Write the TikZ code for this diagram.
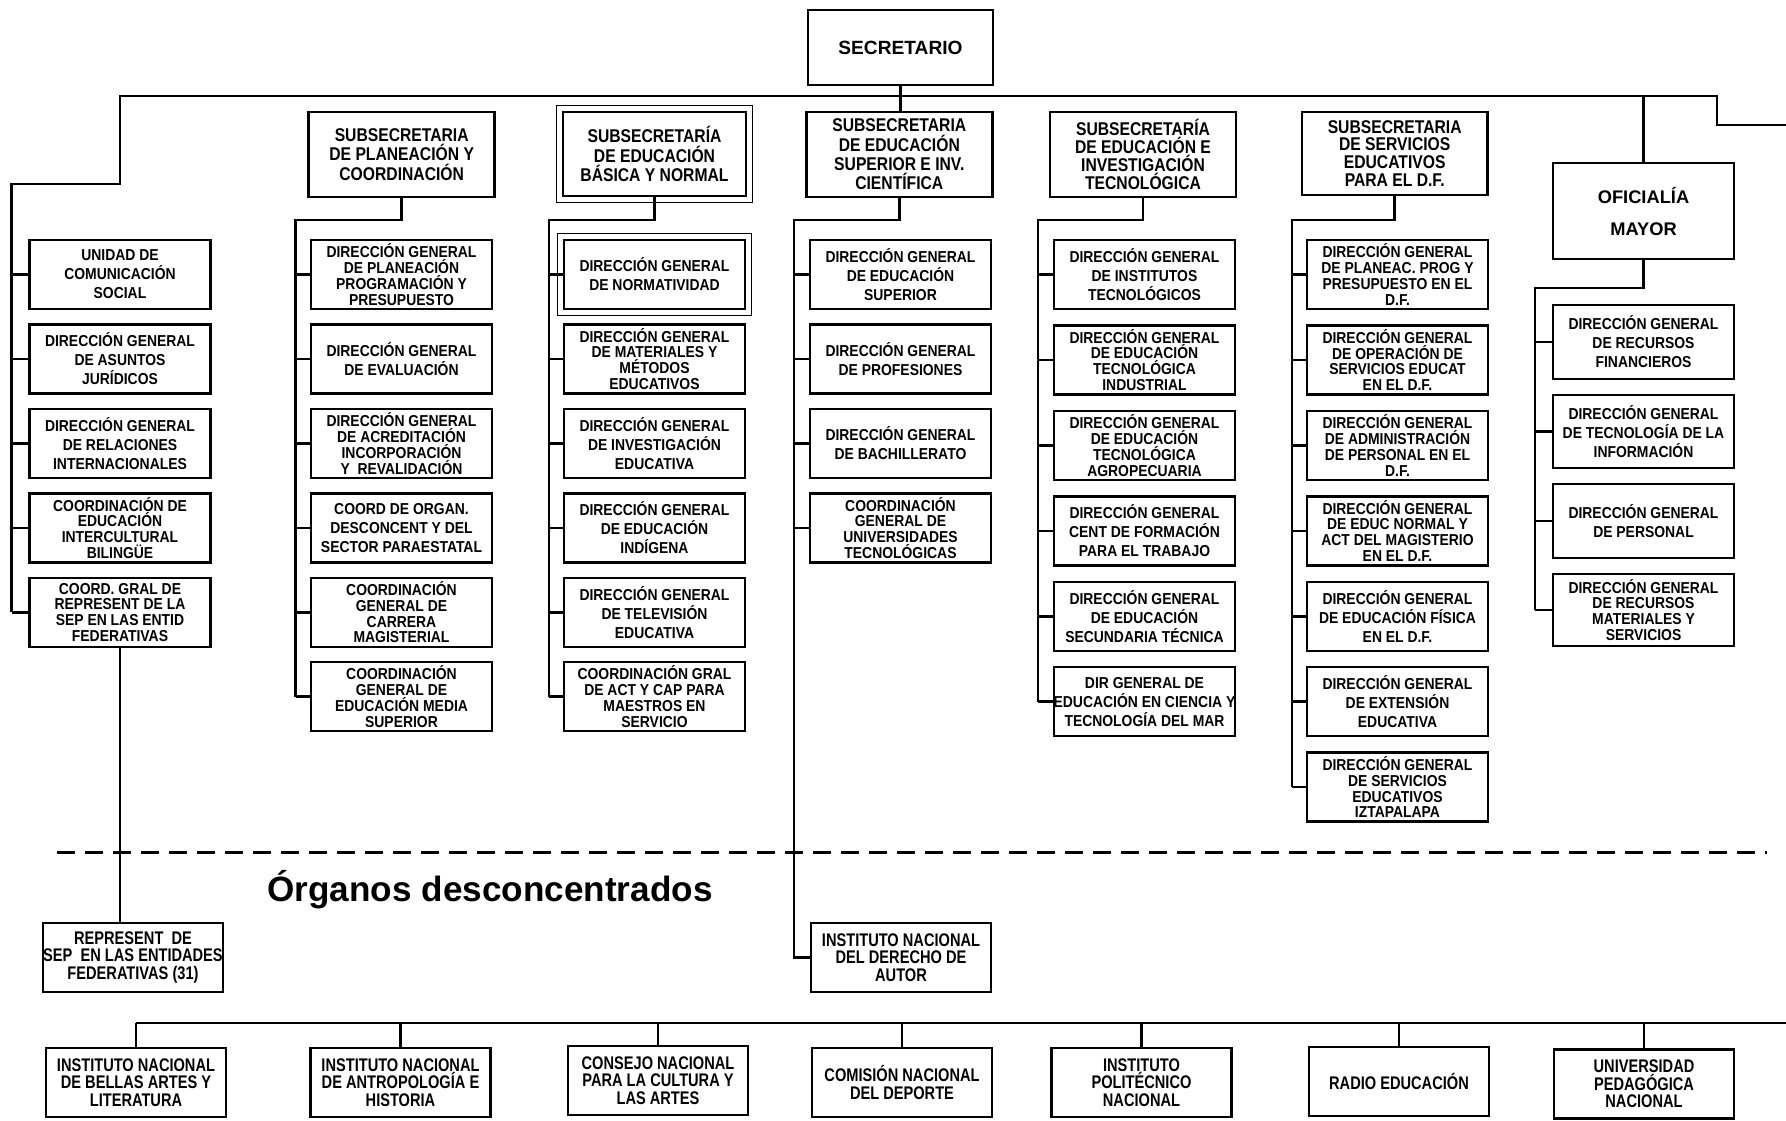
\documentclass[tikz,border=0pt]{standalone}
\usepackage{fontspec}
\setmainfont{Liberation Sans}
\newfontfamily\dirfont{Liberation Sans}[FakeStretch=0.88]
\newfontfamily\subfont{Liberation Sans}[FakeStretch=0.85]
\newfontfamily\narfont{Liberation Sans}[FakeStretch=0.8]
\usetikzlibrary{positioning}

\begin{document}
\begin{tikzpicture}[x=0.02cm, y=-0.02cm, node distance=0.26cm,
  box/.style={draw, line width=1.4pt, fill=white, inner sep=0pt, align=center,
    minimum width=3.62cm, minimum height=1.38cm,
    font=\dirfont\bfseries\fontsize{9}{10.8}\selectfont},
  fourl/.style={font=\dirfont\bfseries\fontsize{9}{9}\selectfont},
  sub/.style={draw, line width=1.4pt, inner sep=0pt, align=center,
    minimum width=3.72cm, minimum height=1.7cm,
    font=\subfont\bfseries\fontsize{10.5}{11}\selectfont},
  subt/.style={font=\subfont\bfseries\fontsize{10.5}{10.2}\selectfont},
  head/.style={draw, line width=1.4pt, inner sep=0pt, align=center,
    minimum width=3.7cm, minimum height=1.5cm,
    font=\bfseries\fontsize{10.9}{18.2}\selectfont},
  nar/.style={box, minimum width=3.6cm,
    font=\narfont\bfseries\fontsize{10.4}{10}\selectfont},
  ln/.style={line width=1.4pt},
  sep/.style={line width=1.7pt, dash pattern=on 0.36cm off 0.2cm}]
  \useasboundingbox (0,0) rectangle (1786,1120);

  \node[head] (sec) at (900.5,47.5) {SECRETARIO};
  \node[sub] (ssp) at (401.7,154.5) {SUBSECRETARIA\\DE PLANEACIÓN Y\\COORDINACIÓN};
  \node[sub, minimum width=3.66cm, minimum height=1.68cm] (ssb) at (654.5,154) {SUBSECRETARÍA\\DE EDUCACIÓN\\BÁSICA Y NORMAL};
  \node[sub] (sss) at (899.3,154.5) {SUBSECRETARIA\\DE EDUCACIÓN\\SUPERIOR E INV.\\CIENTÍFICA};
  \node[sub, subt] (sst) at (1143,154.5) {SUBSECRETARÍA\\DE EDUCACIÓN E\\INVESTIGACIÓN\\TECNOLÓGICA};
  \node[sub, subt, minimum height=1.66cm] (ssd) at (1394.7,153.5) {SUBSECRETARIA\\DE SERVICIOS\\EDUCATIVOS\\PARA EL D.F.};
  \node[head, minimum width=3.62cm, minimum height=1.92cm, font=\bfseries\fontsize{10.4}{18.2}\selectfont] (om) at (1643.5,211) {OFICIALÍA\\MAYOR};

  \node[box] (l1) at (120,274.5) {UNIDAD DE\\COMUNICACIÓN\\SOCIAL};
  \node[box, below=of l1] (l2) {DIRECCIÓN GENERAL\\DE ASUNTOS\\JURÍDICOS};
  \node[box, below=of l2] (l3) {DIRECCIÓN GENERAL\\DE RELACIONES\\INTERNACIONALES};
  \node[box, fourl, below=of l3] (l4) {COORDINACIÓN DE\\EDUCACIÓN\\INTERCULTURAL\\BILINGÜE};
  \node[box, fourl, below=of l4] (l5) {COORD. GRAL DE\\REPRESENT DE LA\\SEP EN LAS ENTID\\FEDERATIVAS};

  \node[box, fourl] (p1) at (401.5,274.5) {DIRECCIÓN GENERAL\\DE PLANEACIÓN\\PROGRAMACIÓN Y\\PRESUPUESTO};
  \node[box, below=of p1] (p2) {DIRECCIÓN GENERAL\\DE EVALUACIÓN};
  \node[box, fourl, below=of p2] (p3) {DIRECCIÓN GENERAL\\DE ACREDITACIÓN\\INCORPORACIÓN\\Y~ REVALIDACIÓN};
  \node[box, below=of p3] (p4) {COORD DE ORGAN.\\DESCONCENT Y DEL\\SECTOR PARAESTATAL};
  \node[box, fourl, below=of p4] (p5) {COORDINACIÓN\\GENERAL DE\\CARRERA\\MAGISTERIAL};
  \node[box, fourl, below=of p5] (p6) {COORDINACIÓN\\GENERAL DE\\EDUCACIÓN MEDIA\\SUPERIOR};

  \node[box] (b1) at (654.5,274.5) {DIRECCIÓN GENERAL\\DE NORMATIVIDAD};
  \node[box, fourl, below=of b1] (b2) {DIRECCIÓN GENERAL\\DE MATERIALES Y\\MÉTODOS\\EDUCATIVOS};
  \node[box, below=of b2] (b3) {DIRECCIÓN GENERAL\\DE INVESTIGACIÓN\\EDUCATIVA};
  \node[box, below=of b3] (b4) {DIRECCIÓN GENERAL\\DE EDUCACIÓN\\INDÍGENA};
  \node[box, below=of b4] (b5) {DIRECCIÓN GENERAL\\DE TELEVISIÓN\\EDUCATIVA};
  \node[box, fourl, below=of b5] (b6) {COORDINACIÓN GRAL\\DE ACT Y CAP PARA\\MAESTROS EN\\SERVICIO};

  \node[box] (s1) at (900.5,274.5) {DIRECCIÓN GENERAL\\DE EDUCACIÓN\\SUPERIOR};
  \node[box, below=of s1] (s2) {DIRECCIÓN GENERAL\\DE PROFESIONES};
  \node[box, below=of s2] (s3) {DIRECCIÓN GENERAL\\DE BACHILLERATO};
  \node[box, fourl, below=of s3] (s4) {COORDINACIÓN\\GENERAL DE\\UNIVERSIDADES\\TECNOLÓGICAS};

  \node[box] (t1) at (1144.5,274.5) {DIRECCIÓN GENERAL\\DE INSTITUTOS\\TECNOLÓGICOS};
  \node[box, fourl, below=0.28cm of t1] (t2) {DIRECCIÓN GENERAL\\DE EDUCACIÓN\\TECNOLÓGICA\\INDUSTRIAL};
  \node[box, fourl, below=0.28cm of t2] (t3) {DIRECCIÓN GENERAL\\DE EDUCACIÓN\\TECNOLÓGICA\\AGROPECUARIA};
  \node[box, below=0.28cm of t3] (t4) {DIRECCIÓN GENERAL\\CENT DE FORMACIÓN\\PARA EL TRABAJO};
  \node[box, below=0.28cm of t4] (t5) {DIRECCIÓN GENERAL\\DE EDUCACIÓN\\SECUNDARIA TÉCNICA};
  \node[box, below=0.28cm of t5] (t6) {DIR GENERAL DE\\\makebox[0pt]{EDUCACIÓN EN CIENCIA Y}\\TECNOLOGÍA DEL MAR};

  \node[box, fourl] (d1) at (1397.5,274.5) {DIRECCIÓN GENERAL\\DE PLANEAC. PROG Y\\PRESUPUESTO EN EL\\D.F.};
  \node[box, fourl, below=0.28cm of d1] (d2) {DIRECCIÓN GENERAL\\DE OPERACIÓN DE\\SERVICIOS EDUCAT\\EN EL D.F.};
  \node[box, fourl, below=0.28cm of d2] (d3) {DIRECCIÓN GENERAL\\DE ADMINISTRACIÓN\\DE PERSONAL EN EL\\D.F.};
  \node[box, fourl, below=0.28cm of d3] (d4) {DIRECCIÓN GENERAL\\DE EDUC NORMAL Y\\ACT DEL MAGISTERIO\\EN EL D.F.};
  \node[box, below=0.28cm of d4] (d5) {DIRECCIÓN GENERAL\\DE EDUCACIÓN FÍSICA\\EN EL D.F.};
  \node[box, below=0.28cm of d5] (d6) {DIRECCIÓN GENERAL\\DE EXTENSIÓN\\EDUCATIVA};
  \node[box, fourl, below=0.28cm of d6] (d7) {DIRECCIÓN GENERAL\\DE SERVICIOS\\EDUCATIVOS\\IZTAPALAPA};

  \node[box, minimum height=1.48cm] (o1) at (1643.5,342) {DIRECCIÓN GENERAL\\DE RECURSOS\\FINANCIEROS};
  \node[box, minimum height=1.46cm, below=0.27cm of o1] (o2) {DIRECCIÓN GENERAL\\DE TECNOLOGÍA DE LA\\INFORMACIÓN};
  \node[box, minimum height=1.48cm, below=0.27cm of o2] (o3) {DIRECCIÓN GENERAL\\DE PERSONAL};
  \node[box, fourl, minimum height=1.44cm, below=0.27cm of o3] (o4) {DIRECCIÓN GENERAL\\DE RECURSOS\\MATERIALES Y\\SERVICIOS};

  \node[nar] (rep) at (133,957.5) {REPRESENT~ DE\\SEP~ EN LAS ENTIDADES\\FEDERATIVAS (31)};
  \node[nar] (inda) at (901,957.5) {INSTITUTO NACIONAL\\DEL DERECHO DE\\AUTOR};
  \node[font=\bfseries\fontsize{20}{24}\selectfont, anchor=base] (org) at (490,901) {Órganos desconcentrados};

  \node[nar] (inbal) at (136,1082.5) {INSTITUTO NACIONAL\\DE BELLAS ARTES Y\\LITERATURA};
  \node[nar] (inah) at (400.5,1082.5) {INSTITUTO NACIONAL\\DE ANTROPOLOGÍA E\\HISTORIA};
  \node[nar] (cnca) at (658,1080.5) {CONSEJO NACIONAL\\PARA LA CULTURA Y\\LAS ARTES};
  \node[nar] (conade) at (902,1082.5) {COMISIÓN NACIONAL\\DEL DEPORTE};
  \node[nar] (ipn) at (1141.5,1082.5) {INSTITUTO\\POLITÉCNICO\\NACIONAL};
  \node[nar] (radio) at (1399,1081.5) {RADIO EDUCACIÓN};
  \node[nar] (upn) at (1644,1084) {UNIVERSIDAD\\PEDAGÓGICA\\NACIONAL};

  \foreach \n in {ssb,b1}
    \draw[line width=0.5pt, double, double distance=0.9pt] ([shift={(-4,4)}]\n.south west) rectangle ([shift={(4,-4)}]\n.north east);

  \coordinate (tl) at (120,96);
  \coordinate (tr) at (1717,96);
  \coordinate (re) at (1786,125);
  \coordinate (lbus) at (11.7,184);
  \coordinate (pbus) at (295.7,220);
  \coordinate (bbus) at (549,220);
  \coordinate (sbus) at (794,220);
  \coordinate (tbus) at (1038,220);
  \coordinate (dbus) at (1292,220);
  \coordinate (obus) at (1535,288);
  \coordinate (bend) at (1786,1023);

  \draw[ln] (lbus |- l5.west) -- (lbus) -| (tl) -- (tr) |- (re);
  \draw[ln] (sec.south) -- (sec.south |- sss.north);
  \draw[ln] (om.north |- tr) -- (om.north);
  \draw[ln] (ssp.south) |- (pbus) -- (pbus |- p6.west);
  \draw[ln] (ssb.south) |- (bbus) -- (bbus |- b6.west);
  \draw[ln] (sss.south) |- (sbus) |- (inda.west);
  \draw[ln] (sst.south) |- (tbus) -- (tbus |- t6.west);
  \draw[ln] (ssd.south) |- (dbus) -- (dbus |- d7.west);
  \draw[ln] (om.south) |- (obus) -- (obus |- o4.west);

  \foreach \i in {1,...,5} \draw[ln] (lbus |- l\i.west) -- (l\i.west);
  \foreach \i in {1,...,6} \draw[ln] (pbus |- p\i.west) -- (p\i.west);
  \foreach \i in {1,...,6} \draw[ln] (bbus |- b\i.west) -- (b\i.west);
  \foreach \i in {1,...,4} \draw[ln] (sbus |- s\i.west) -- (s\i.west);
  \foreach \i in {1,...,6} \draw[ln] (tbus |- t\i.west) -- (t\i.west);
  \foreach \i in {1,...,7} \draw[ln] (dbus |- d\i.west) -- (d\i.west);
  \foreach \i in {1,...,4} \draw[ln] (obus |- o\i.west) -- (o\i.west);

  \draw[ln] (l5.south) -- (l5.south |- rep.north);
  \draw[sep] (57,852) -- (1767,852);

  \draw[ln] (inbal.north |- bend) -- (bend);
  \foreach \n in {inbal,inah,cnca,conade,ipn,radio,upn}
    \draw[ln] (\n.north |- bend) -- (\n.north);
\end{tikzpicture}
\end{document}
